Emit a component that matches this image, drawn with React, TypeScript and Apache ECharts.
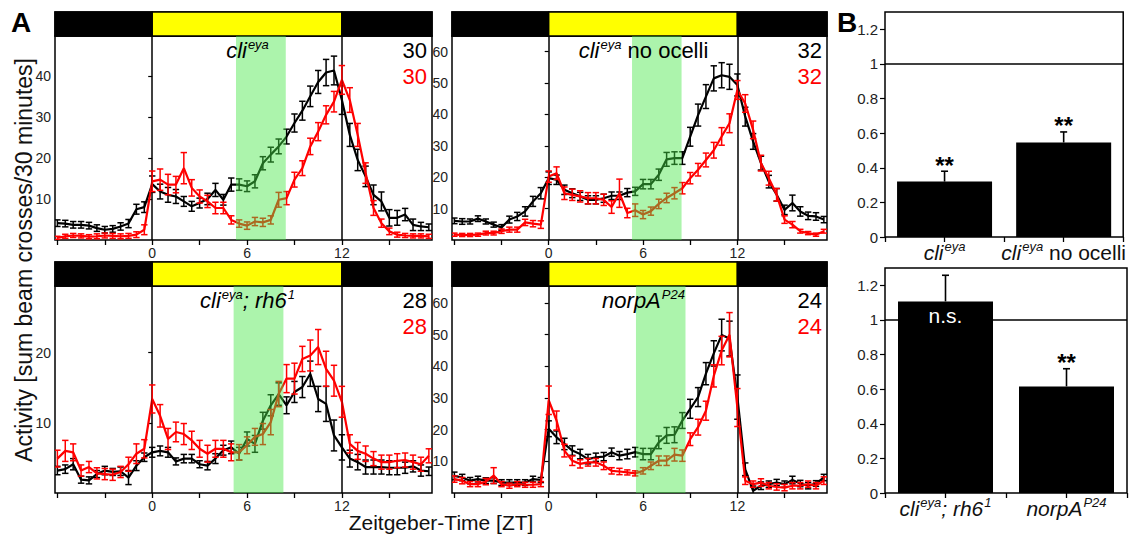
import React, { useEffect, useRef } from 'react';
import * as echarts from 'echarts';

const FONT = '"Liberation Sans", Arial, Helvetica, sans-serif';

// ---------- Panel A data ----------
const HOURS = [-6, -5.5, -5, -4.5, -4, -3.5, -3, -2.5, -2, -1.5, -1, -0.5,
  0, 0.5, 1, 1.5, 2, 2.5, 3, 3.5, 4, 4.5, 5, 5.5,
  6, 6.5, 7, 7.5, 8, 8.5, 9, 9.5, 10, 10.5, 11, 11.5,
  12, 12.5, 13, 13.5, 14, 14.5, 15, 15.5, 16, 16.5, 17, 17.5];

const X_MIN = -6.15;
const X_MAX = 17.7;
const X_TICKS = [-6, -3, 0, 3, 6, 9, 12, 15];
const X_LABELS = [0, 6, 12];
// light/dark segments: [start, end, isLight]
const LD_SEGMENTS = [[X_MIN, 0, 0], [0, 12, 1], [12, X_MAX, 0]];
const LD_TRANSITIONS = [0, 12];

const P1_BLACK = [4.1, 4.0, 3.7, 3.7, 3.5, 2.9, 2.5, 2.7, 3.3, 4.0, 7.5, 8.0,
  13.6, 11.8, 11.0, 10.6, 9.4, 8.2, 9.0, 10.0, 12.2, 9.8, 13.5, 13.5,
  13.1, 14.3, 18.7, 20.8, 22.8, 25.2, 28.5, 31.5, 35.0, 38.5, 40.8, 41.3,
  34.1, 25.6, 19.5, 15.5, 11.0, 9.4, 5.4, 5.4, 6.2, 3.7, 3.3, 3.1];
const P1_BLACK_ERR = [0.8, 0.8, 0.8, 0.8, 0.8, 0.8, 0.8, 0.8, 0.9, 1.0, 1.2, 1.3,
  2.0, 1.8, 1.8, 1.7, 1.2, 1.2, 1.2, 1.4, 1.6, 1.3, 1.6, 1.4,
  1.3, 1.6, 1.6, 1.8, 1.8, 1.8, 2.2, 2.3, 2.5, 2.8, 3.2, 3.5,
  3.5, 2.8, 2.6, 2.5, 2.4, 2.3, 2.0, 1.8, 1.5, 1.4, 1.0, 0.8];
const P1_RED = [0.5, 0.9, 1.1, 1.0, 0.8, 0.9, 1.1, 1.0, 0.9, 1.0, 1.3, 2.5,
  14.3, 14.7, 13.5, 13.5, 17.5, 12.7, 10.6, 9.4, 7.8, 7.8, 4.9, 4.0,
  3.5, 4.5, 4.3, 4.9, 9.8, 10.2, 14.7, 17.5, 22.8, 26.4, 30.5, 33.7,
  39.0, 34.1, 25.6, 16.3, 7.8, 4.1, 2.1, 1.3, 1.1, 1.0, 1.0, 0.9];
const P1_RED_ERR = [0.4, 0.5, 0.5, 0.5, 0.5, 0.6, 0.6, 0.6, 0.6, 0.6, 0.7, 1.2,
  2.5, 2.6, 2.5, 2.0, 3.8, 2.0, 1.6, 1.5, 1.4, 1.4, 1.0, 0.9,
  0.9, 1.0, 1.0, 1.0, 1.8, 1.6, 1.8, 1.8, 2.0, 2.2, 2.2, 2.5,
  3.5, 3.0, 2.8, 2.5, 1.8, 1.0, 0.8, 0.6, 0.5, 0.5, 0.5, 0.5];

const P2_BLACK = [6.1, 5.9, 5.9, 6.8, 5.9, 4.9, 4.0, 6.5, 7.5, 9.1, 12.3, 14.9,
  19.7, 19.2, 16.0, 14.9, 13.9, 12.8, 12.8, 13.3, 14.1, 14.1, 15.1, 15.5,
  17.8, 17.8, 20.8, 25.7, 26.1, 26.1, 32.9, 39.8, 45.7, 51.5, 52.5, 52.0,
  49.4, 39.3, 31.4, 24.5, 18.6, 14.4, 9.6, 11.8, 9.1, 7.7, 7.5, 6.5];
const P2_BLACK_ERR = [0.9, 0.9, 0.8, 0.9, 0.8, 0.8, 0.9, 1.1, 1.3, 1.5, 1.6, 1.8,
  2.0, 1.5, 1.5, 1.4, 1.3, 1.3, 1.3, 1.3, 1.2, 1.2, 1.3, 1.3,
  1.5, 1.5, 1.8, 2.2, 2.0, 2.0, 3.0, 3.5, 3.8, 4.0, 4.0, 4.0,
  3.5, 3.0, 2.5, 2.2, 2.0, 2.0, 1.5, 2.5, 1.5, 1.2, 1.2, 1.0];
const P2_RED = [1.7, 1.6, 1.6, 1.7, 2.2, 2.2, 2.8, 3.3, 3.3, 5.6, 5.2, 4.9,
  20.2, 21.3, 14.9, 14.4, 13.9, 13.3, 13.3, 12.8, 10.5, 14.9, 8.6, 9.5,
  8.1, 9.2, 11.5, 13.4, 14.9, 16.5, 19.7, 22.4, 25.5, 28.6, 33.0, 37.2,
  47.8, 43.5, 35.1, 24.5, 19.7, 14.4, 6.5, 4.9, 2.8, 2.2, 1.7, 2.8];
const P2_RED_ERR = [0.5, 0.5, 0.5, 0.5, 0.6, 0.6, 0.7, 0.8, 0.8, 1.0, 1.0, 1.2,
  1.8, 2.0, 2.0, 1.8, 1.8, 1.8, 1.8, 1.8, 2.0, 4.5, 1.5, 2.0,
  1.3, 1.3, 1.5, 1.5, 1.8, 1.8, 1.8, 2.0, 2.2, 2.5, 2.8, 3.0,
  3.0, 2.8, 2.8, 2.5, 2.2, 2.0, 1.2, 1.0, 0.6, 0.5, 0.5, 0.6];

const P3_BLACK = [3.2, 3.4, 4.1, 1.9, 1.8, 2.7, 3.2, 3.0, 3.1, 2.2, 3.9, 5.1,
  5.8, 6.0, 5.8, 4.5, 4.9, 4.9, 4.1, 3.9, 4.9, 6.1, 6.5, 5.6,
  7.7, 7.0, 10.3, 12.5, 14.1, 12.5, 14.4, 15.1, 17.0, 13.4, 12.7, 8.2,
  6.5, 4.9, 4.4, 3.7, 3.7, 3.7, 3.6, 3.6, 3.6, 3.8, 3.2, 3.1];
const P3_BLACK_ERR = [0.6, 0.6, 0.8, 0.5, 0.5, 0.5, 0.6, 0.5, 0.6, 1.0, 0.7, 0.6,
  0.7, 0.7, 0.7, 0.5, 0.6, 0.6, 0.5, 0.6, 0.7, 0.7, 0.9, 0.9,
  1.0, 1.2, 1.2, 1.5, 1.6, 1.2, 1.5, 1.5, 1.8, 1.8, 2.5, 2.2,
  1.8, 1.2, 1.1, 1.0, 1.0, 1.0, 1.0, 1.0, 0.8, 0.8, 0.8, 0.6];
const P3_RED = [4.9, 6.0, 5.8, 3.2, 3.7, 2.8, 2.7, 2.6, 3.0, 4.1, 5.6, 6.3,
  13.4, 11.0, 7.7, 8.7, 8.4, 7.5, 6.3, 5.6, 6.3, 6.3, 5.8, 5.8,
  6.8, 8.0, 8.4, 10.1, 14.1, 16.3, 16.3, 19.1, 19.6, 20.8, 17.7, 16.0,
  13.0, 7.0, 6.0, 5.6, 4.9, 4.4, 4.4, 4.6, 4.7, 4.4, 4.1, 5.3];
const P3_RED_ERR = [1.2, 1.5, 1.2, 0.8, 0.8, 0.8, 0.8, 0.8, 0.8, 1.0, 1.4, 1.3,
  2.0, 1.6, 1.5, 1.4, 1.5, 1.3, 1.2, 1.2, 1.2, 1.2, 1.2, 1.1,
  1.2, 1.2, 1.5, 1.8, 1.8, 2.0, 2.2, 1.8, 2.2, 2.5, 2.5, 2.2,
  2.2, 1.3, 1.2, 1.1, 1.0, 1.0, 1.0, 1.0, 1.0, 1.0, 1.0, 1.0];

const P4_BLACK = [5.4, 4.9, 3.9, 4.4, 3.9, 3.9, 3.3, 3.3, 3.3, 3.3, 4.4, 4.1,
  20.3, 17.6, 15.5, 13.4, 12.3, 10.7, 11.3, 11.5, 12.9, 11.8, 12.3, 12.9,
  12.3, 12.3, 16.0, 18.2, 18.4, 22.9, 26.6, 30.3, 37.7, 44.1, 49.9, 48.8,
  30.3, 7.5, 0.7, 2.3, 2.8, 3.3, 2.8, 4.1, 3.0, 2.3, 3.0, 4.9];
const P4_BLACK_ERR = [1.2, 1.0, 1.0, 0.9, 0.9, 0.9, 0.9, 0.9, 0.9, 0.9, 0.9, 0.8,
  2.5, 2.0, 1.8, 1.5, 1.5, 1.5, 1.3, 1.3, 1.3, 1.3, 1.5, 1.5,
  1.8, 1.8, 2.0, 2.5, 2.5, 2.5, 3.0, 3.0, 3.5, 4.0, 5.0, 5.5,
  7.0, 2.0, 1.5, 1.2, 1.0, 1.0, 1.0, 1.2, 1.0, 1.0, 0.9, 1.0];
const P4_RED = [4.4, 3.9, 2.8, 2.8, 3.6, 5.5, 2.8, 2.3, 2.8, 2.6, 2.6, 2.8,
  29.3, 22.9, 13.4, 10.2, 9.2, 9.7, 9.7, 8.6, 7.0, 6.8, 6.5, 6.2,
  7.0, 8.6, 10.2, 10.2, 12.1, 11.8, 17.0, 20.8, 26.0, 37.0, 45.0, 50.0,
  27.0, 3.9, 2.8, 3.3, 2.3, 1.9, 1.7, 2.3, 2.3, 2.8, 2.3, 3.9];
const P4_RED_ERR = [1.0, 1.0, 0.8, 0.8, 1.0, 2.5, 0.8, 0.8, 0.8, 0.8, 0.8, 0.8,
  4.5, 3.0, 2.0, 1.5, 1.3, 1.2, 1.2, 1.2, 1.0, 1.0, 0.8, 0.8,
  1.0, 1.2, 1.5, 1.5, 2.0, 1.8, 2.0, 2.5, 3.0, 3.5, 4.5, 7.0,
  6.0, 1.2, 1.0, 1.2, 1.0, 1.0, 1.0, 1.0, 1.0, 1.0, 1.0, 1.2];

const PANEL_TITLES = [
  '{i|cli}{s|eya}',
  '{i|cli}{s|eya}{n| no ocelli}',
  '{i|cli}{s|eya}{i|; rh6}{s|1}',
  '{i|norpA}{s|P24}',
];
const N_COUNTS = [[30, 30], [32, 32], [28, 28], [24, 24]];
const BANDS = [[5.3, 8.45], [5.3, 8.45], [5.15, 8.3], [5.55, 8.7]];
const Y_MAX = [49.7, 65, 29.5, 65.4];
const Y_TICKS = [[10, 20, 30, 40], [10, 20, 30, 40, 50, 60], [10, 20], [10, 20, 30, 40, 50, 60]];

// ---------- Panel B data ----------
const B_TOP_CATS = ['{i|cli}{s|eya}', '{i|cli}{s|eya}{n| no ocelli}'];
const B_TOP_VALUES = [0.32, 0.546];
const B_TOP_ERR = [0.06, 0.061];
const B_TOP_SIG = ['**', '**'];
const B_BOT_CATS = ['{i|cli}{s|eya}{i|; rh6}{s|1}', '{i|norpA}{s|P24}'];
const B_BOT_VALUES = [1.107, 0.616];
const B_BOT_ERR = [0.151, 0.102];
const B_BOT_SIG = ['n.s.', '**'];
const B_Y_TICKS = [0, 0.2, 0.4, 0.6, 0.8, 1, 1.2];
const B_REF = 1;

// ---------- layout ----------
const A_GRIDS = [
  { left: 55, top: 36, width: 377, height: 204 },
  { left: 452, top: 36, width: 375, height: 204 },
  { left: 55, top: 286, width: 377, height: 207 },
  { left: 452, top: 286, width: 375, height: 207 },
];
const B_GRIDS = [
  { left: 885, top: 12, width: 242, height: 225 },
  { left: 885, top: 268, width: 242, height: 225 },
];

const richTitle = {
  i: { fontFamily: FONT, fontStyle: 'italic', fontSize: 22, color: '#111' },
  s: { fontFamily: FONT, fontStyle: 'italic', fontSize: 13, color: '#111', padding: [0, 0, 12, 1] },
  n: { fontFamily: FONT, fontSize: 22, color: '#111' },
};
const richCat = {
  i: { fontFamily: FONT, fontStyle: 'italic', fontSize: 21, color: '#111' },
  s: { fontFamily: FONT, fontStyle: 'italic', fontSize: 13, color: '#111', padding: [0, 0, 11, 1] },
  n: { fontFamily: FONT, fontSize: 21, color: '#111' },
};

function buildOption() {
  const grid: any[] = [];
  const xAxis: any[] = [];
  const yAxis: any[] = [];
  const series: any[] = [];
  const graphic: any[] = [];

  const panels = [
    { black: P1_BLACK, blackErr: P1_BLACK_ERR, red: P1_RED, redErr: P1_RED_ERR },
    { black: P2_BLACK, blackErr: P2_BLACK_ERR, red: P2_RED, redErr: P2_RED_ERR },
    { black: P3_BLACK, blackErr: P3_BLACK_ERR, red: P3_RED, redErr: P3_RED_ERR },
    { black: P4_BLACK, blackErr: P4_BLACK_ERR, red: P4_RED, redErr: P4_RED_ERR },
  ];

  const errSeries = (k: number, vals: number[], errs: number[], color: string, z: number) => ({
    type: 'custom',
    xAxisIndex: k,
    yAxisIndex: k,
    z,
    clip: true,
    silent: true,
    data: HOURS.map((h, i) => [h, vals[i], errs[i]]),
    encode: { x: 0, y: 1 },
    renderItem: (_p: any, api: any) => {
      const x = api.value(0), y = api.value(1), e = api.value(2);
      const t = api.coord([x, y + e]);
      const b = api.coord([x, y - e]);
      const hw = 3.2;
      const st = { stroke: color, lineWidth: 1.5 };
      return {
        type: 'group',
        children: [
          { type: 'line', shape: { x1: t[0], y1: t[1], x2: b[0], y2: b[1] }, style: st },
          { type: 'line', shape: { x1: t[0] - hw, y1: t[1], x2: t[0] + hw, y2: t[1] }, style: st },
          { type: 'line', shape: { x1: b[0] - hw, y1: b[1], x2: b[0] + hw, y2: b[1] }, style: st },
        ],
      };
    },
  });

  panels.forEach((p, k) => {
    const g = A_GRIDS[k];
    grid.push({ ...g, show: true, borderColor: '#000', borderWidth: 1.5, backgroundColor: 'transparent', containLabel: false });
    xAxis.push({
      type: 'value', gridIndex: k, min: X_MIN, max: X_MAX,
      axisLine: { show: false },
      splitLine: { show: false },
      axisTick: { show: true, customValues: X_TICKS, length: 5, lineStyle: { color: '#000', width: 1.3 } },
      axisLabel: { show: true, customValues: X_LABELS, color: '#222', fontSize: 14, fontFamily: FONT, margin: 6 },
    });
    yAxis.push({
      type: 'value', gridIndex: k, min: 0, max: Y_MAX[k],
      axisLine: { show: false },
      splitLine: { show: false },
      axisTick: { show: true, customValues: Y_TICKS[k], length: 4, lineStyle: { color: '#000', width: 1.2 } },
      axisLabel: { show: true, customValues: Y_TICKS[k], color: '#222', fontSize: 14, fontFamily: FONT, margin: 4 },
    });
  });

  // LD bar grids
  panels.forEach((_p, k) => {
    const g = A_GRIDS[k];
    const gi = 4 + k;
    grid.push({ left: g.left, top: g.top - 24, width: g.width, height: 24, show: true, borderColor: '#000', borderWidth: 1.5, backgroundColor: 'transparent' });
    xAxis.push({ type: 'value', gridIndex: gi, min: X_MIN, max: X_MAX, show: false });
    yAxis.push({ type: 'value', gridIndex: gi, min: 0, max: 1, show: false });
  });

  // B grids
  B_GRIDS.forEach((g, j) => {
    const gi = 8 + j;
    const cats = j === 0 ? B_TOP_CATS : B_BOT_CATS;
    grid.push({ ...g, show: true, borderColor: '#000', borderWidth: 1.5, backgroundColor: 'transparent' });
    xAxis.push({
      type: 'value', gridIndex: gi, min: 0, max: cats.length,
      axisLine: { show: false }, splitLine: { show: false },
      axisTick: { show: true, customValues: [0, 0.5, 1, 1.5, 2], length: 5, lineStyle: { color: '#000', width: 1.3 } },
      axisLabel: {
        show: true, customValues: cats.map((_c, i) => i + 0.5),
        formatter: (v: number) => cats[Math.floor(v)] || '',
        rich: richCat, margin: 3,
      },
    });
    yAxis.push({
      type: 'value', gridIndex: gi, min: 0, max: 1.3,
      axisLine: { show: false }, splitLine: { show: false },
      axisTick: { show: true, customValues: B_Y_TICKS, length: 5, lineStyle: { color: '#000', width: 1.2 } },
      axisLabel: {
        show: true, customValues: B_Y_TICKS, color: '#222', fontSize: 15, fontFamily: FONT, margin: 7,
        formatter: (v: number) => String(Math.round(v * 10) / 10),
      },
    });
  });

  // A series
  panels.forEach((p, k) => {
    const yMax = Y_MAX[k];
    series.push({
      type: 'line', xAxisIndex: k, yAxisIndex: k, z: 2, silent: true,
      data: HOURS.map((h, i) => [h, p.black[i]]),
      showSymbol: false, symbol: 'none',
      lineStyle: { color: '#000', width: 2.2 },
      markLine: {
        silent: true, symbol: ['none', 'none'], label: { show: false },
        lineStyle: { color: '#000', width: 1.5, type: 'solid' },
        data: LD_TRANSITIONS.map((t) => ({ xAxis: t })),
      },
    });
    series.push(errSeries(k, p.black, p.blackErr, '#000', 3));
    series.push({
      type: 'line', xAxisIndex: k, yAxisIndex: k, z: 4, silent: true,
      data: HOURS.map((h, i) => [h, p.red[i]]),
      showSymbol: false, symbol: 'none',
      lineStyle: { color: '#ff0000', width: 2.2 },
    });
    series.push(errSeries(k, p.red, p.redErr, '#ff0000', 5));
    // green light-pulse band on top (translucent)
    series.push({
      type: 'custom', xAxisIndex: k, yAxisIndex: k, z: 10, silent: true,
      data: [BANDS[k]],
      encode: { x: [0, 1] },
      renderItem: (_pp: any, api: any) => {
        const a = api.coord([api.value(0), yMax]);
        const b = api.coord([api.value(1), 0]);
        return {
          type: 'rect',
          shape: { x: a[0], y: a[1], width: b[0] - a[0], height: b[1] - a[1] },
          style: { fill: 'rgba(70,230,70,0.45)' },
        };
      },
    });
    // LD bar
    series.push({
      type: 'custom', xAxisIndex: 4 + k, yAxisIndex: 4 + k, z: 2, silent: true,
      data: LD_SEGMENTS,
      encode: { x: [0, 1] },
      renderItem: (_pp: any, api: any) => {
        const a = api.coord([api.value(0), 1]);
        const b = api.coord([api.value(1), 0]);
        const light = api.value(2) === 1;
        return {
          type: 'rect',
          shape: { x: a[0], y: a[1], width: b[0] - a[0], height: b[1] - a[1] },
          style: { fill: light ? '#ffff00' : '#000', stroke: '#000', lineWidth: 1.5 },
        };
      },
    });
  });

  // B series
  const bSets = [
    { vals: B_TOP_VALUES, errs: B_TOP_ERR, sigs: B_TOP_SIG },
    { vals: B_BOT_VALUES, errs: B_BOT_ERR, sigs: B_BOT_SIG },
  ];
  bSets.forEach((b, j) => {
    const gi = 8 + j;
    series.push({
      type: 'bar', xAxisIndex: gi, yAxisIndex: gi, z: 2, silent: true,
      data: b.vals.map((v, i) => [i + 0.5, v]),
      barWidth: 95,
      itemStyle: { color: '#000' },
      markLine: {
        silent: true, symbol: ['none', 'none'], label: { show: false },
        lineStyle: { color: '#000', width: 1.5, type: 'solid' },
        data: [{ yAxis: B_REF }],
      },
    });
    series.push({
      type: 'custom', xAxisIndex: gi, yAxisIndex: gi, z: 6, silent: true,
      data: b.vals.map((v, i) => [i + 0.5, v, b.errs[i]]),
      encode: { x: 0, y: 1 },
      renderItem: (params: any, api: any) => {
        const x = api.value(0), v = api.value(1), e = api.value(2);
        const top = api.coord([x, v + e]);
        const bar = api.coord([x, v]);
        const sig = b.sigs[params.dataIndex];
        const st = { stroke: '#000', lineWidth: 1.6 };
        const children: any[] = [
          { type: 'line', shape: { x1: bar[0], y1: bar[1], x2: top[0], y2: top[1] }, style: st },
          { type: 'line', shape: { x1: top[0] - 3.5, y1: top[1], x2: top[0] + 3.5, y2: top[1] }, style: st },
        ];
        if (sig === 'n.s.') {
          children.push({
            type: 'text', x: bar[0], y: bar[1] + 14,
            style: { text: sig, fill: '#fff', font: `21px ${FONT}`, align: 'center', verticalAlign: 'middle' },
          });
        } else {
          children.push({
            type: 'text', x: top[0], y: top[1] - 6,
            style: { text: sig, fill: '#000', font: `bold 24px ${FONT}`, align: 'center', verticalAlign: 'middle' },
          });
        }
        return { type: 'group', children };
      },
    });
  });

  // texts (drawn above the translucent band)
  const Z = 100;
  graphic.push({ type: 'text', z: Z, x: 11, y: 22, style: { text: 'A', font: `bold 28px ${FONT}`, fill: '#000', align: 'left', verticalAlign: 'middle' } });
  graphic.push({ type: 'text', z: Z, x: 837, y: 22, style: { text: 'B', font: `bold 28px ${FONT}`, fill: '#000', align: 'left', verticalAlign: 'middle' } });
  graphic.push({
    type: 'text', z: Z, x: 24, y: 260, rotation: Math.PI / 2,
    style: { text: 'Activity [sum beam crosses/30 minutes]', font: `23px ${FONT}`, fill: '#111', align: 'center', verticalAlign: 'middle' },
  });
  graphic.push({
    type: 'text', z: Z, x: 441, y: 522,
    style: { text: 'Zeitgeber-Time [ZT]', font: `21px ${FONT}`, fill: '#111', align: 'center', verticalAlign: 'middle' },
  });
  A_GRIDS.forEach((g, k) => {
    graphic.push({
      type: 'text', z: Z, x: g.left + g.width / 2 + 4, y: g.top + 14,
      style: { text: PANEL_TITLES[k], rich: richTitle, align: 'center', verticalAlign: 'middle' },
    });
    graphic.push({
      type: 'text', z: Z, x: g.left + g.width - 5, y: g.top + 14,
      style: { text: String(N_COUNTS[k][0]), font: `22px ${FONT}`, fill: '#000', align: 'right', verticalAlign: 'middle' },
    });
    graphic.push({
      type: 'text', z: Z, x: g.left + g.width - 5, y: g.top + 40,
      style: { text: String(N_COUNTS[k][1]), font: `22px ${FONT}`, fill: '#ff0000', align: 'right', verticalAlign: 'middle' },
    });
  });

  return {
    animation: false,
    backgroundColor: '#fff',
    textStyle: { fontFamily: FONT },
    grid, xAxis, yAxis, series,
    graphic: { elements: graphic },
  };
}

export default function App() {
  const ref = useRef<HTMLDivElement>(null);
  useEffect(() => {
    if (!ref.current) return;
    const chart = echarts.init(ref.current, undefined, { renderer: 'svg' });
    chart.setOption(buildOption() as any);
    return () => chart.dispose();
  }, []);
  return <div ref={ref} style={{ position: 'absolute', left: 0, top: 0, width: 1129, height: 536, background: '#fff' }} />;
}
